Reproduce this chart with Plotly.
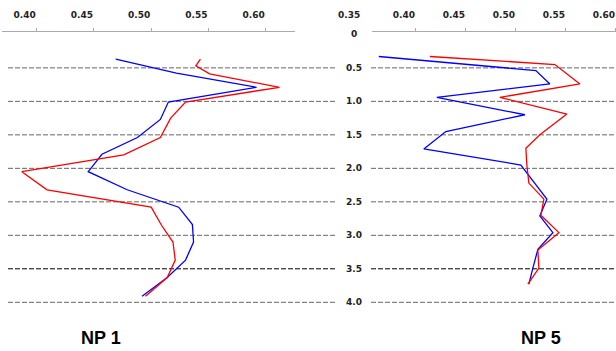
import plotly.graph_objects as go

# NP 1 profiles (depth vs value)
np1_blue_depth = [0.37, 0.58, 0.79, 1.01, 1.27, 1.54, 1.79, 2.05, 2.32, 2.58, 2.84, 3.10, 3.37, 3.63, 3.91]
np1_blue_val = [0.469, 0.522, 0.592, 0.515, 0.508, 0.488, 0.457, 0.445, 0.479, 0.524, 0.536, 0.537, 0.530, 0.514, 0.492]
np1_red_depth = [0.37, 0.47, 0.59, 0.79, 1.01, 1.25, 1.54, 1.80, 2.05, 2.32, 2.58, 2.85, 3.10, 3.37, 3.63, 3.91]
np1_red_val = [0.543, 0.539, 0.551, 0.612, 0.530, 0.517, 0.508, 0.476, 0.387, 0.409, 0.500, 0.509, 0.519, 0.521, 0.514, 0.495]

# NP 5 profiles
np5_blue_depth = [0.33, 0.54, 0.74, 0.94, 1.20, 1.45, 1.71, 1.95, 2.46, 2.71, 2.96, 3.21, 3.49, 3.73]
np5_blue_val = [0.363, 0.520, 0.534, 0.421, 0.509, 0.430, 0.408, 0.505, 0.531, 0.524, 0.537, 0.522, 0.517, 0.513]
np5_red_depth = [0.33, 0.45, 0.74, 0.94, 1.19, 1.50, 1.70, 1.95, 2.22, 2.46, 2.70, 2.96, 3.22, 3.49, 3.73]
np5_red_val = [0.414, 0.539, 0.564, 0.484, 0.551, 0.524, 0.510, 0.511, 0.513, 0.528, 0.525, 0.543, 0.522, 0.523, 0.512]

depth_ticks = [0, 0.5, 1.0, 1.5, 2.0, 2.5, 3.0, 3.5, 4.0]
depth_labels = ["0", "0.5", "1.0", "1.5", "2.0", "2.5", "3.0", "3.5", "4.0"]
left_ticks = [0.40, 0.45, 0.50, 0.55, 0.60]
right_ticks = [0.40, 0.45, 0.50, 0.55, 0.60]
right_extra_label = "0.35"
panel_titles = ["NP 1", "NP 5"]

W, H = 616, 351
BLUE = "#0000FF"
RED = "#FF0000"
TICK_FONT = dict(family="DejaVu Sans", size=9, color="#222222", weight="bold")

fig = go.Figure()
fig.add_trace(go.Scatter(x=np1_blue_val, y=np1_blue_depth, mode="lines",
                         line=dict(color=BLUE, width=1.3), xaxis="x", yaxis="y"))
fig.add_trace(go.Scatter(x=np1_red_val, y=np1_red_depth, mode="lines",
                         line=dict(color=RED, width=1.3), xaxis="x", yaxis="y"))
fig.add_trace(go.Scatter(x=np5_blue_val, y=np5_blue_depth, mode="lines",
                         line=dict(color=BLUE, width=1.3), xaxis="x2", yaxis="y"))
fig.add_trace(go.Scatter(x=np5_red_val, y=np5_red_depth, mode="lines",
                         line=dict(color=RED, width=1.3), xaxis="x2", yaxis="y"))

axis_common = dict(side="top", anchor="y", showgrid=False, zeroline=False,
                   showline=True, linecolor="#AAAAAA", linewidth=1,
                   ticks="outside", ticklen=3, tickcolor="#AAAAAA", tickwidth=1,
                   tickfont=TICK_FONT, ticklabelshift=-12, ticklabelstandoff=6,
                   tickformat=".2f")

shapes = []
# dashed depth lines for each panel
for d in depth_ticks[1:]:
    col = "#000000" if d == 3.5 else "#666666"
    for x0, x1 in [(8 / W, 335 / W), (371 / W, 1.0)]:
        shapes.append(dict(type="line", xref="paper", yref="y", x0=x0, x1=x1, y0=d, y1=d,
                           line=dict(color=col, width=1, dash="5px,2px"), layer="below"))

annotations = []
for d, lab in zip(depth_ticks, depth_labels):
    annotations.append(dict(xref="paper", yref="y", x=354 / W, y=d, text=lab,
                            showarrow=False, xanchor="center", yanchor="middle",
                            font=TICK_FONT))
# first label of the right axis sits left of where its line begins
annotations.append(dict(xref="paper", yref="paper", x=349 / W, y=1 - 15 / H,
                        text=right_extra_label, showarrow=False, xanchor="center",
                        yanchor="middle", font=TICK_FONT))
for txt, xc in zip(panel_titles, [101, 541]):
    annotations.append(dict(xref="paper", yref="paper", x=xc / W, y=1 - 338 / H, text=txt,
                            showarrow=False, xanchor="center", yanchor="middle",
                            font=dict(family="Liberation Sans", size=18, color="#000000",
                                      weight="bold")))

fig.update_layout(
    width=W, height=H,
    margin=dict(l=0, r=0, t=0, b=0),
    paper_bgcolor="white", plot_bgcolor="white",
    showlegend=False,
    xaxis=dict(domain=[2 / W, 295 / W], range=[0.3697, 0.6256],
               tickvals=left_ticks, **axis_common),
    xaxis2=dict(domain=[371.7 / W, 1.0], range=[0.3559, 0.6001],
                tickvals=right_ticks, **axis_common),
    yaxis=dict(domain=[1 - 310 / H, 1 - 31.7 / H], range=[4.115, -0.04],
               showgrid=False, zeroline=False, showticklabels=False, showline=False),
    shapes=shapes,
    annotations=annotations,
)

fig.write_html("out.html")
